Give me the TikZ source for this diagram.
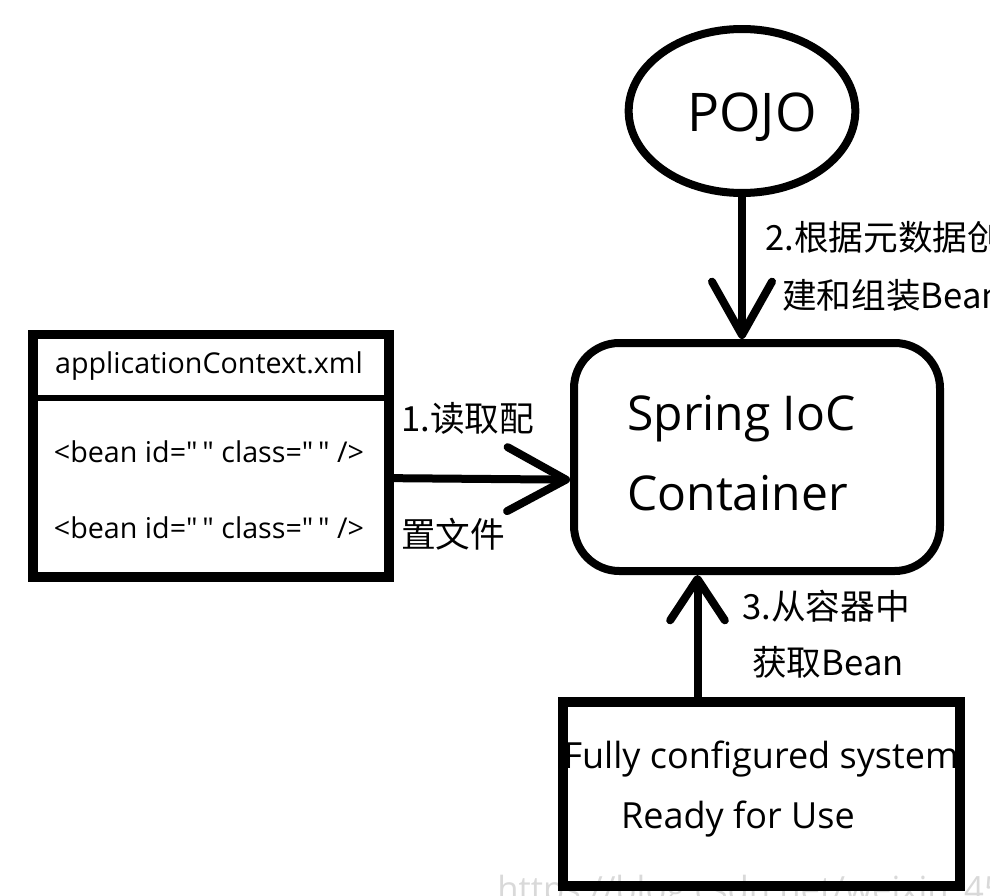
\documentclass[tikz,border=0pt]{standalone}
\usepackage{fontspec}
\setmainfont{Open Sans}
\newfontfamily\xmlfont{Open Sans}[Ligatures=TeXOff]
\newfontfamily\cjk{Noto Sans CJK SC}
\usetikzlibrary{shapes.geometric,arrows.meta}
\newcommand{\qq}{\symbol{34}}
\begin{document}
\begin{tikzpicture}[x=0.75pt,y=-0.75pt,
  boxline/.style={draw,line width=6pt,inner sep=0pt},
  lbl/.style={anchor=west,inner sep=0pt,font=\cjk\fontsize{26}{30}\selectfont},
  plain/.style={inner sep=0pt},
  xmltext/.style={inner sep=0pt,font=\xmlfont\fontsize{21.5}{26}\selectfont},
  arrA/.style={line width=6pt,-{Straight Barb[length=44pt,width=48pt,line cap=round,line join=round]}},
  arrB/.style={line width=6pt,-{Straight Barb[length=40pt,width=45pt,line cap=round,line join=round]}},
  arrC/.style={line width=6pt,-{Straight Barb[length=31pt,width=41pt,line cap=round,line join=round]}},
]
\useasboundingbox (0,0) rectangle (990,896);
\clip (0,0) rectangle (990,896);

% watermark
\node[anchor=south west,inner sep=0pt,text=gray!30,font=\fontsize{26}{26}\selectfont] (wm) at (497,910) {https://blog.csdn.net/weixin\_45930};

% POJO
\node[boxline,ellipse,minimum width=170pt,minimum height=123pt] (pojo) at (742,111) {};
\node[plain,font=\fontsize{40}{48}\selectfont] (pojotxt) at (752,117) {POJO};

% Spring IoC container
\node[boxline,rounded corners=34pt,minimum width=274.5pt,minimum height=171pt] (ioc) at (757,457) {};
\node[plain,anchor=west,align=left,font=\fontsize{36}{60}\selectfont] (ioctxt) at (627,453) {Spring IoC\\Container};

% applicationContext.xml box
\node[boxline,line width=7pt,minimum width=267pt,minimum height=182pt] (lbox) at (211,455.5) {};
\draw[line width=5pt] (lbox.west |- 0,398) -- (lbox.east |- 0,398);
\node[xmltext] (hdr) at (209,366) {applicationContext.xml};
\node[xmltext] (bean1) at (209,452) {<bean id=\qq\,\qq{} class=\qq\,\qq{} />};
\node[xmltext] (bean2) at (209,528) {<bean id=\qq\,\qq{} class=\qq\,\qq{} />};

% fully configured system box
\node[plain,font=\fontsize{27}{30}\selectfont] (sys1) at (761,759) {Fully configured system};
\node[plain,font=\fontsize{27}{30}\selectfont] (sys2) at (738,819) {Ready for Use};
\node[boxline,line width=7pt,minimum width=297.75pt,minimum height=138pt] (sys) at (761.5,794) {};

% labels
\node[lbl] (l1a) at (401,418) {1.读取配};
\node[lbl] (l1b) at (401,534) {置文件};
\node[lbl] (l2a) at (765,237) {2.根据元数据创};
\node[lbl] (l2b) at (782,295) {建和组装Bean};
\node[lbl] (l3a) at (742,606) {3.从容器中};
\node[lbl] (l3b) at (752,662) {获取Bean};

% connectors
\draw[arrA] ([yshift=-17pt]lbox.east) -- ([yshift=-17pt]ioc.west);
\draw[arrB] (pojo.south) -- (pojo.south |- ioc.north);
\draw[arrC] ([xshift=-48pt]sys.north) -- ([xshift=-48pt]sys.north |- ioc.south);
\end{tikzpicture}
\end{document}
